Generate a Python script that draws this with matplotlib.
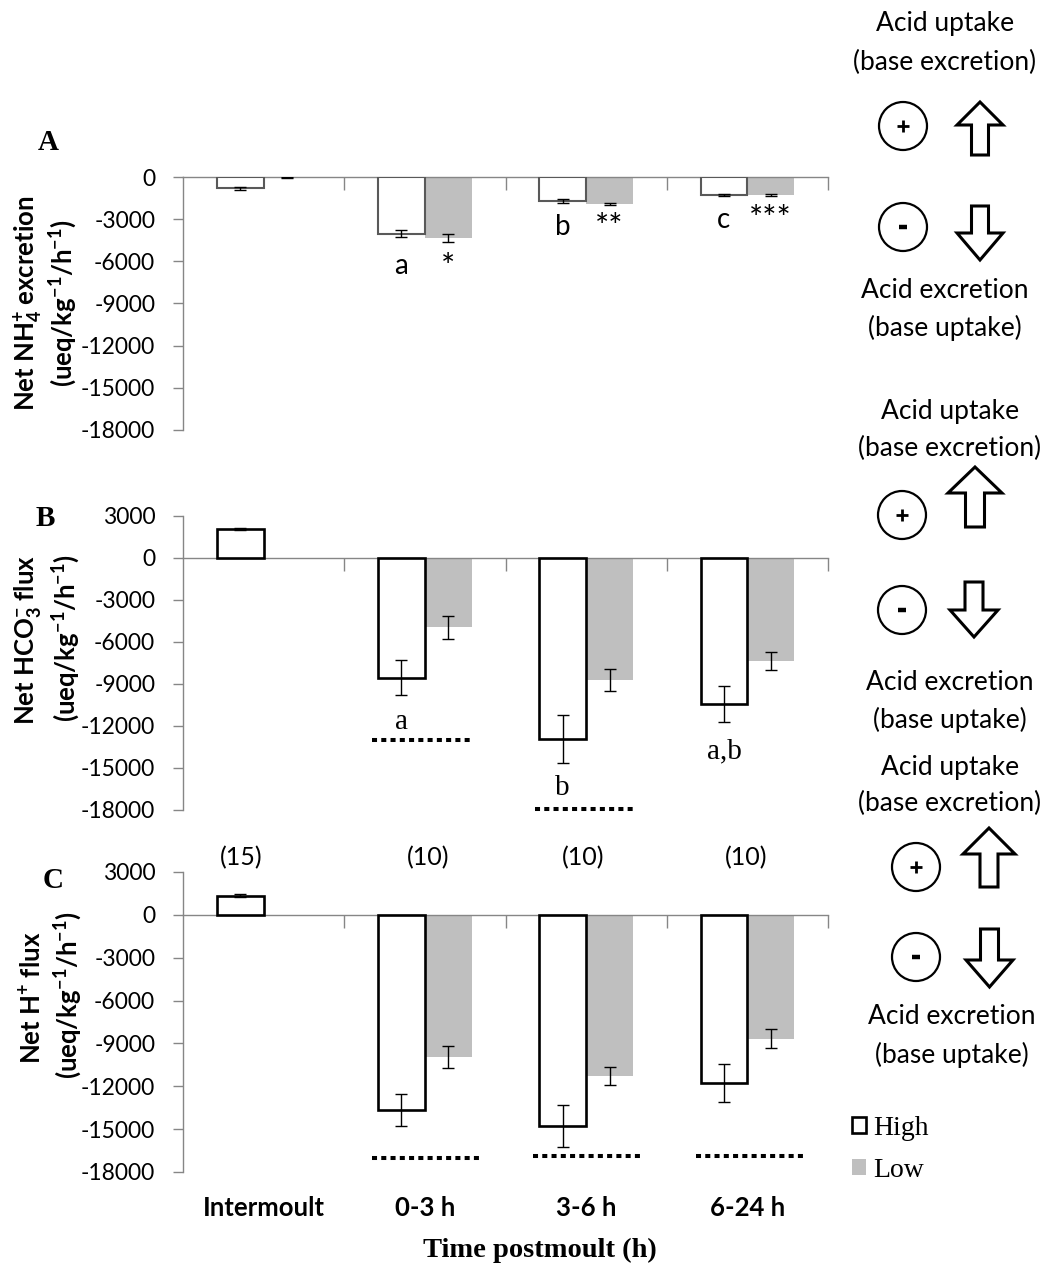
import numpy as np
import matplotlib
matplotlib.use("Agg")
import matplotlib.pyplot as plt
from matplotlib.patches import Circle, Polygon

# ---------------- data ----------------
categories = ["Intermoult", "0-3 h", "3-6 h", "6-24 h"]
n_labels = ["(15)", "(10)", "(10)", "(10)"]

nh4_high = [-800, -4050, -1710, -1280]
nh4_high_err = [120, 250, 150, 50]
nh4_low = [-40, -4340, -1920, -1300]
nh4_low_err = [30, 250, 50, 60]

hco3_high = [2070, -8570, -12930, -10430]
hco3_high_err = [100, 1250, 1690, 1310]
hco3_low = [np.nan, -4930, -8710, -7360]
hco3_low_err = [np.nan, 820, 790, 620]

h_high = [1350, -13640, -14800, -11750]
h_high_err = [80, 1120, 1470, 1320]
h_low = [np.nan, -9930, -11300, -8670]
h_low_err = [np.nan, 780, 630, 680]

yticks_a = [0, -3000, -6000, -9000, -12000, -15000, -18000]
yticks_bc = [3000, 0, -3000, -6000, -9000, -12000, -15000, -18000]

nh4_high_letters = ["", "a", "b", "c"]
nh4_low_marks = ["", "*", "**", "***"]
hco3_letters = ["", "a", "b", "a,b"]

# ---------------- style ----------------
W, H = 1048, 1266
GRAY = "#868686"
LOWC = "#BFBFBF"
SANS = "Lato"
SERIF = "Liberation Serif"
plt.rcParams["font.family"] = [SANS, "DejaVu Sans"]
plt.rcParams["mathtext.fontset"] = "custom"
plt.rcParams["mathtext.rm"] = "Lato:bold"
plt.rcParams["mathtext.it"] = "Lato:bold"
plt.rcParams["mathtext.bf"] = "Lato:bold"

fig = plt.figure(figsize=(W / 100, H / 100), dpi=100)


def fx(x):
    return x / W


def fy(y):
    return 1 - y / H


def make_axes(top, bottom):
    return fig.add_axes([fx(183), fy(bottom), fx(828) - fx(183), (bottom - top) / H])


def style(ax, ymin, ymax, ticks):
    ax.set_xlim(-0.5, 3.5)
    ax.set_ylim(ymin, ymax)
    for s in ["top", "right"]:
        ax.spines[s].set_visible(False)
    ax.spines["bottom"].set_position(("data", 0))
    for s in ["left", "bottom"]:
        ax.spines[s].set_color(GRAY)
        ax.spines[s].set_linewidth(1.0)
    ax.set_yticks(ticks)
    ax.set_yticklabels([str(t) for t in ticks])
    ax.tick_params(axis="y", length=7, width=1, color=GRAY, pad=13, labelsize=16.5)
    ax.set_xticks([0.5, 1.5, 2.5, 3.5])
    ax.tick_params(axis="x", length=9, width=1, color=GRAY, labelbottom=False,
                   direction="out")


x = np.arange(len(categories))
w = 0.29


def draw_bars(ax, high, high_err, low, low_err, edge, elw):
    hb = ax.bar(x - w / 2, high, w, color="white", edgecolor=edge, linewidth=elw, zorder=3)
    lb = ax.bar(x + w / 2, low, w, color=LOWC, edgecolor="none", zorder=2)
    ax.errorbar(x - w / 2, high, yerr=high_err, fmt="none", ecolor="black",
                elinewidth=1.0, capsize=4.3, capthick=1.0, zorder=4)
    ax.errorbar(x + w / 2, low, yerr=low_err, fmt="none", ecolor="black",
                elinewidth=1.0, capsize=4.3, capthick=1.0, zorder=4)
    return hb, lb


def dotted(ax, c, y, left=0.33, right=0.32):
    ax.plot([c - left, c + right], [y, y], color="black", lw=2.9,
            linestyle=(0, (1.25, 1.05)), dash_capstyle="butt", zorder=5, clip_on=False)


# ---------------- Panel A ----------------
axA = make_axes(177, 430)
style(axA, -18000, 0, yticks_a)
draw_bars(axA, nh4_high, nh4_high_err, nh4_low, nh4_low_err, "#595959", 1.5)
for i, (lt, yv) in enumerate(zip(nh4_high_letters, [0, -6350, -3550, -3050])):
    if lt:
        axA.text(x[i] - w / 2, yv, lt, ha="center", va="center", fontsize=20, family=SANS)
for i, (lt, yv) in enumerate(zip(nh4_low_marks, [0, -6500, -3650, -3050])):
    if lt:
        axA.text(x[i] + w / 2, yv, lt, ha="center", va="center", fontsize=24, family=SANS)

# ---------------- Panel B ----------------
axB = make_axes(516, 810)
style(axB, -18000, 3000, yticks_bc)
draw_bars(axB, hco3_high, hco3_high_err, hco3_low, hco3_low_err, "black", 1.9)
for i, (lt, yv) in enumerate(zip(hco3_letters, [0, -11700, -16400, -13800])):
    if lt:
        axB.text(x[i] - w / 2, yv, lt, ha="center", va="center", fontsize=21, family=SERIF)
dotted(axB, 1, -13000, 0.33, 0.28)
dotted(axB, 2, -17900, 0.32, 0.29)

# ---------------- Panel C ----------------
axC = make_axes(872, 1172)
style(axC, -18000, 3000, yticks_bc)
hb, lb = draw_bars(axC, h_high, h_high_err, h_low, h_low_err, "black", 1.9)
dotted(axC, 1, -17000, 0.33, 0.34)
dotted(axC, 2, -16900, 0.33, 0.34)
dotted(axC, 3, -16850, 0.32, 0.35)
n_x = [-0.14, 1.02, 1.98, 2.99]
for xi, lab in zip(n_x, n_labels):
    axC.text(xi, 4000, lab, ha="center", va="center", fontsize=18, family=SANS, clip_on=False)
for xi, lab in zip(x, categories):
    axC.text(xi, -0.12, lab, ha="center", va="center", fontsize=18.5, fontweight="bold",
             family=SANS, transform=axC.get_xaxis_transform(), clip_on=False)

leg = axC.legend([hb, lb], ["High", "Low"], loc="upper left",
                 bbox_to_anchor=(fx(852), fy(1116)), bbox_transform=fig.transFigure,
                 frameon=False, prop={"family": SERIF, "size": 20},
                 handlelength=0.5, handleheight=0.5, handletextpad=0.25,
                 labelspacing=0.6, borderaxespad=0, borderpad=0)

fig.text(fx(540), fy(1250), "Time postmoult (h)", ha="center", va="center",
         family=SERIF, fontweight="bold", fontsize=20.5)

# panel letters
for lab, (px, py) in zip(["A", "B", "C"], [(48, 142), (45, 518), (53, 880)]):
    fig.text(fx(px), fy(py), lab, ha="center", va="center", family=SERIF,
             fontweight="bold", fontsize=21)

# y labels
ylab = [
    (r"Net NH$_{4}^{+}$ excretion", (28, 303)),
    (r"(ueq/kg$^{-1}$/h$^{-1}$)", (63, 303)),
    (r"Net HCO$_{3}^{-}$ flux", (28, 640)),
    (r"(ueq/kg$^{-1}$/h$^{-1}$)", (66, 638)),
    (r"Net H$^{+}$ flux", (32, 998)),
    (r"(ueq/kg$^{-1}$/h$^{-1}$)", (68, 995)),
]
for txt, (px, py) in ylab:
    fig.text(fx(px), fy(py), txt, rotation=90, ha="center", va="center",
             family=SANS, fontweight="bold", fontsize=18.5)

# ---------------- right-side annotations ----------------
ov = fig.add_axes([0, 0, 1, 1])
ov.set_xlim(0, W)
ov.set_ylim(H, 0)
ov.axis("off")
ov.patch.set_alpha(0)


def up_arrow(x0, x1, y0, y1, hh, sw):
    cx = (x0 + x1) / 2
    pts = [(cx, y0), (x1, y0 + hh), (cx + sw / 2, y0 + hh), (cx + sw / 2, y1),
           (cx - sw / 2, y1), (cx - sw / 2, y0 + hh), (x0, y0 + hh)]
    ov.add_patch(Polygon(pts, closed=True, facecolor="white", edgecolor="black",
                         lw=2.2, joinstyle="miter"))


def down_arrow(x0, x1, y0, y1, hh, sw):
    cx = (x0 + x1) / 2
    pts = [(cx, y1), (x1, y1 - hh), (cx + sw / 2, y1 - hh), (cx + sw / 2, y0),
           (cx - sw / 2, y0), (cx - sw / 2, y1 - hh), (x0, y1 - hh)]
    ov.add_patch(Polygon(pts, closed=True, facecolor="white", edgecolor="black",
                         lw=2.2, joinstyle="miter"))


def block(tx, t1y, t2y, cx, cyp, cym, r, ua, da, bx, b1y, b2y):
    fs = 19
    ov.text(tx, t1y, "Acid uptake", ha="center", va="center", fontsize=fs, family=SANS)
    ov.text(tx, t2y, "(base excretion)", ha="center", va="center", fontsize=fs, family=SANS)
    ov.add_patch(Circle((cx, cyp), r, facecolor="none", edgecolor="black", lw=1.6))
    ov.add_patch(Circle((cx, cym), r, facecolor="none", edgecolor="black", lw=1.6))
    ov.plot([cx - 6, cx + 6], [cyp, cyp], color="black", lw=2.0, solid_capstyle="butt")
    ov.plot([cx, cx], [cyp - 6, cyp + 6], color="black", lw=2.0, solid_capstyle="butt")
    ov.plot([cx - 4, cx + 4], [cym, cym], color="black", lw=3.2, solid_capstyle="butt")
    up_arrow(*ua)
    down_arrow(*da)
    ov.text(bx, b1y, "Acid excretion", ha="center", va="center", fontsize=fs, family=SANS)
    ov.text(bx, b2y, "(base uptake)", ha="center", va="center", fontsize=fs, family=SANS)


block(945, 24, 62, 903, 126, 227, 24, (957, 1003, 102, 155, 23, 17),
      (957, 1003, 206, 260, 27, 17), 945, 290, 328)
block(950, 412, 448, 902, 515, 610, 24, (948, 1002, 467, 527, 26, 19),
      (950, 998, 582, 637, 27, 18), 950, 682, 720)
block(950, 767, 803, 916, 867, 957, 24, (963, 1015, 828, 887, 26, 18),
      (966, 1013, 929, 987, 27, 18), 952, 1017, 1055)

fig.savefig("out.png", dpi=100)
